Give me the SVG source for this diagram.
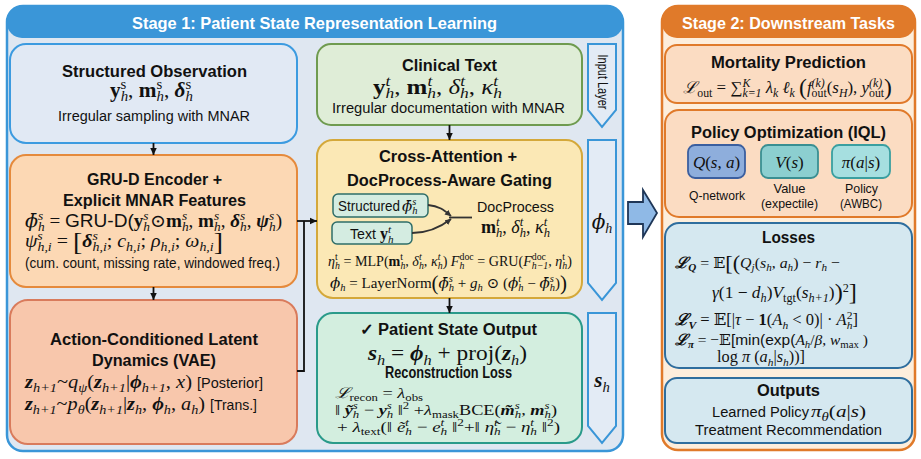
<svg xmlns="http://www.w3.org/2000/svg" width="921" height="459" viewBox="0 0 921 459">
<defs>
<style>
.hdr{font-family:"Liberation Sans",Arial,sans-serif;font-weight:bold;font-size:17px;fill:#fff;text-anchor:middle}
.ttl{font-family:"Liberation Sans",Arial,sans-serif;font-weight:bold;font-size:16px;fill:#111;text-anchor:middle}
.txt{font-family:"Liberation Sans",Arial,sans-serif;font-size:14px;fill:#111}
.mid{text-anchor:middle}
.mf{font-family:"Liberation Serif","DejaVu Serif",serif;font-style:italic;fill:#111}
.dj{font-family:"DejaVu Serif",serif}
.sf{font-family:"Liberation Sans",Arial,sans-serif;font-style:normal}
.n{font-style:normal}
.bv{font-weight:bold;font-style:normal}
.bi{font-weight:bold;font-style:italic}
.u{font-size:70%;baseline-shift:0.55em}
.d{font-size:70%;baseline-shift:-0.32em}
.big{font-style:normal;font-size:140%;baseline-shift:-0.1em}
.conn{fill:none;stroke:#111;stroke-width:1.8}
.banner{fill:#e3ebf5;stroke:#3a96d8;stroke-width:2}
.sub{fill:#d4ece1;stroke:#2e6d68;stroke-width:1.5}
.s2box{fill:#fbdcc2;stroke:#e07a2a;stroke-width:2}
.bluebox{fill:#d5e8f0;stroke:#2f6e9e;stroke-width:2}
.lbl{font-family:"Liberation Sans",Arial,sans-serif;font-size:13px;fill:#111;text-anchor:middle}
</style>
<marker id="ah" markerUnits="userSpaceOnUse" markerWidth="8" markerHeight="8" refX="7.5" refY="4" orient="auto"><path d="M0,0.5 L7.5,4 L0,7.5 z" fill="#111"/></marker>
<marker id="ah2" markerUnits="userSpaceOnUse" markerWidth="7" markerHeight="7" refX="6" refY="3.5" orient="auto"><path d="M0,0.5 L6.5,3.5 L0,6.5 z" fill="#333"/></marker>
</defs>

<g id="stage1">
<rect x="7" y="6" width="616" height="445" rx="16" fill="#dfe7f1" stroke="#3a96d8" stroke-width="2.5"/>
<rect x="7" y="6" width="616" height="32" rx="15" fill="#3a96d8"/>
<text x="314.5" y="29" class="hdr" textLength="365" lengthAdjust="spacingAndGlyphs">Stage 1: Patient State Representation Learning</text>
</g>

<g id="stage2">
<rect x="662" y="6" width="253" height="444" rx="16" fill="#fdeedc" stroke="#e07a2a" stroke-width="2.5"/>
<rect x="662" y="6" width="253" height="32" rx="15" fill="#e07a2a"/>
<text x="788.5" y="29" class="hdr" textLength="213" lengthAdjust="spacingAndGlyphs">Stage 2: Downstream Tasks</text>
</g>

<g id="structured-observation">
<rect x="10" y="44" width="287" height="99" rx="16" fill="#e1e9f4" stroke="#3c9be0" stroke-width="2"/>
<text x="154.5" y="77" class="ttl" textLength="185" lengthAdjust="spacingAndGlyphs">Structured Observation</text>
<text x="110" y="97" class="mf" font-size="20" textLength="83" lengthAdjust="spacingAndGlyphs"><tspan class="bv">y</tspan><tspan class="u n">s</tspan><tspan class="d" dx="-5.4">h</tspan><tspan class="n">, </tspan><tspan class="bv">m</tspan><tspan class="u n">s</tspan><tspan class="d" dx="-5.4">h</tspan><tspan class="n">, </tspan><tspan class="bi">δ</tspan><tspan class="u n">s</tspan><tspan class="d" dx="-5.4">h</tspan></text>
<text x="154" y="121" class="txt mid" textLength="192" lengthAdjust="spacingAndGlyphs">Irregular sampling with MNAR</text>
</g>

<g id="clinical-text">
<rect x="317" y="44" width="265" height="81" rx="14" fill="#dfedd7" stroke="#6f9b50" stroke-width="2"/>
<text x="449.5" y="71" class="ttl" textLength="95" lengthAdjust="spacingAndGlyphs">Clinical Text</text>
<text x="373" y="94" class="mf" font-size="20" textLength="129" lengthAdjust="spacingAndGlyphs"><tspan class="bv">y</tspan><tspan class="u">t</tspan><tspan class="d" dx="-3.9">h</tspan><tspan class="n">, </tspan><tspan class="bv">m</tspan><tspan class="u">t</tspan><tspan class="d" dx="-3.9">h</tspan><tspan class="n">, </tspan>δ<tspan class="u">t</tspan><tspan class="d" dx="-3.9">h</tspan><tspan class="n">, </tspan>κ<tspan class="u">t</tspan><tspan class="d" dx="-3.9">h</tspan></text>
<text x="448.5" y="113" class="txt mid" textLength="233" lengthAdjust="spacingAndGlyphs">Irregular documentation with MNAR</text>
</g>

<g id="input-layer">
<polygon points="588,44 616,44 616,110 602,127 588,110" class="banner"/>
<text transform="translate(597.5,82) rotate(90)" class="txt mid" font-size="12" textLength="55" lengthAdjust="spacingAndGlyphs">Input Layer</text>
</g>

<g id="grud-encoder">
<rect x="10" y="155" width="287" height="132" rx="16" fill="#fcd8b4" stroke="#e58a3c" stroke-width="2"/>
<text x="154.5" y="185" class="ttl" textLength="135" lengthAdjust="spacingAndGlyphs">GRU-D Encoder +</text>
<text x="154.5" y="206" class="ttl" textLength="183" lengthAdjust="spacingAndGlyphs">Explicit MNAR Features</text>
<text x="25" y="227" class="mf" font-size="18" textLength="257" lengthAdjust="spacingAndGlyphs"><tspan class="dj">ϕ̄</tspan><tspan class="u">s</tspan><tspan class="d" dx="-4.9">h</tspan><tspan class="n"> = </tspan><tspan class="sf">GRU-D(</tspan><tspan class="bv">y</tspan><tspan class="u">s</tspan><tspan class="d" dx="-4.9">h</tspan><tspan class="n">⊙</tspan><tspan class="bv">m</tspan><tspan class="u">s</tspan><tspan class="d" dx="-4.9">h</tspan><tspan class="n">, </tspan><tspan class="bv">m</tspan><tspan class="u">s</tspan><tspan class="d" dx="-4.9">h</tspan><tspan class="n">, </tspan><tspan class="bi">δ</tspan><tspan class="u">s</tspan><tspan class="d" dx="-4.9">h</tspan><tspan class="n">, </tspan><tspan class="bi">ψ</tspan><tspan class="u">s</tspan><tspan class="d" dx="-4.9">h</tspan><tspan class="n">)</tspan></text>
<text x="25" y="247" class="mf" font-size="18.5" textLength="198" lengthAdjust="spacingAndGlyphs">ψ<tspan class="u">s</tspan><tspan class="d" dx="-5">h,i</tspan><tspan class="n"> = </tspan><tspan class="big">[</tspan><tspan class="bi">δ</tspan><tspan class="u">s</tspan><tspan class="d" dx="-5">h,i</tspan><tspan class="n">; </tspan>c<tspan class="d">h,i</tspan><tspan class="n">; </tspan>ρ<tspan class="d">h,i</tspan><tspan class="n">; </tspan>ω<tspan class="d">h,i</tspan><tspan class="big">]</tspan></text>
<text x="25" y="268" class="txt" font-size="13" textLength="255" lengthAdjust="spacingAndGlyphs">(cum. count, missing rate, windowed freq.)</text>
</g>

<g id="vae-dynamics">
<rect x="10" y="300" width="287" height="144" rx="18" fill="#f8c7ac" stroke="#d97b5c" stroke-width="2"/>
<text x="154" y="345" class="ttl" textLength="208" lengthAdjust="spacingAndGlyphs">Action-Conditioned Latent</text>
<text x="154" y="366" class="ttl" textLength="124" lengthAdjust="spacingAndGlyphs">Dynamics (VAE)</text>
<text x="25" y="388" class="mf" font-size="19" textLength="167" lengthAdjust="spacingAndGlyphs"><tspan class="bi">z</tspan><tspan class="d">h+1</tspan><tspan class="n">~</tspan>q<tspan class="d">ψ</tspan><tspan class="n">(</tspan><tspan class="bi">z</tspan><tspan class="d">h+1</tspan><tspan class="n">|</tspan><tspan class="bi">ϕ</tspan><tspan class="d">h+1</tspan><tspan class="n">, </tspan>x<tspan class="n">)</tspan></text>
<text x="197" y="388" class="txt" font-size="15" textLength="66" lengthAdjust="spacingAndGlyphs">[Posterior]</text>
<text x="25" y="410" class="mf" font-size="19" textLength="180" lengthAdjust="spacingAndGlyphs"><tspan class="bi">z</tspan><tspan class="d">h+1</tspan><tspan class="n">~</tspan>p<tspan class="d">θ</tspan><tspan class="n">(</tspan><tspan class="bi">z</tspan><tspan class="d">h+1</tspan><tspan class="n">|</tspan><tspan class="bi">z</tspan><tspan class="d">h</tspan><tspan class="n">, </tspan><tspan class="bi">ϕ</tspan><tspan class="d">h</tspan><tspan class="n">, </tspan>a<tspan class="d">h</tspan><tspan class="n">)</tspan></text>
<text x="210" y="410" class="txt" font-size="15" textLength="47" lengthAdjust="spacingAndGlyphs">[Trans.]</text>
</g>

<g id="cross-attention">
<rect x="317" y="140" width="265" height="158" rx="16" fill="#fbe8b5" stroke="#d4a83a" stroke-width="2"/>
<text x="448" y="162" class="ttl" textLength="138" lengthAdjust="spacingAndGlyphs">Cross-Attention +</text>
<text x="449.5" y="186" class="ttl" textLength="205" lengthAdjust="spacingAndGlyphs">DocProcess-Aware Gating</text>
<rect x="333" y="194" width="95" height="23" rx="5" class="sub"/>
<text x="338" y="211" class="txt" textLength="62" lengthAdjust="spacingAndGlyphs">Structured</text>
<text x="402" y="211" class="mf" font-size="15"><tspan class="dj">ϕ̄</tspan><tspan class="u">s</tspan><tspan class="d" dx="-4.1">h</tspan></text>
<rect x="332" y="222" width="80" height="22" rx="5" class="sub"/>
<text x="350" y="239" class="txt" textLength="26" lengthAdjust="spacingAndGlyphs">Text</text>
<text x="380" y="239" class="mf" font-size="16"><tspan class="bv">y</tspan><tspan class="u">t</tspan><tspan class="d" dx="-3.1">h</tspan></text>
<path d="M428,205 C440,206 445,211 451,216" fill="none" stroke="#333" stroke-width="1.8" marker-end="url(#ah2)"/>
<path d="M412,233 C430,233 442,226 451,219" fill="none" stroke="#333" stroke-width="1.8" marker-end="url(#ah2)"/>
<line x1="449" y1="217.5" x2="472" y2="217.5" stroke="#333" stroke-width="1.8"/>
<text x="515.5" y="212" class="txt mid" textLength="77" lengthAdjust="spacingAndGlyphs">DocProcess</text>
<text x="481" y="233" class="mf" font-size="18" textLength="69" lengthAdjust="spacingAndGlyphs"><tspan class="bv">m</tspan><tspan class="u">t</tspan><tspan class="d" dx="-3.5">h</tspan><tspan class="n">, </tspan>δ<tspan class="u">t</tspan><tspan class="d" dx="-3.5">h</tspan><tspan class="n">, </tspan>κ<tspan class="u">t</tspan><tspan class="d" dx="-3.5">h</tspan></text>
<text x="328" y="266" class="mf" font-size="14.5" textLength="244" lengthAdjust="spacingAndGlyphs">η<tspan class="u n">t</tspan><tspan class="d" dx="-2.8">h</tspan><tspan class="n"> = MLP(</tspan><tspan class="bv">m</tspan><tspan class="u n">t</tspan><tspan class="d" dx="-2.8">h</tspan><tspan class="n">, </tspan>δ<tspan class="u">t</tspan><tspan class="d" dx="-2.8">h</tspan><tspan class="n">, </tspan>κ<tspan class="u">t</tspan><tspan class="d" dx="-2.8">h</tspan><tspan class="n">) </tspan>F<tspan class="d">h</tspan><tspan class="u n" dx="-5">doc</tspan><tspan class="n"> = GRU(</tspan>F<tspan class="u n">doc</tspan><tspan class="d" dx="-14.6">h−1</tspan><tspan class="n">, </tspan>η<tspan class="u n">t</tspan><tspan class="d" dx="-2.8">h</tspan><tspan class="n">)</tspan></text>
<text x="330" y="288" class="mf" font-size="14.5" textLength="237" lengthAdjust="spacingAndGlyphs"><tspan class="dj">ϕ</tspan><tspan class="d">h</tspan><tspan class="n"> = LayerNorm</tspan><tspan class="big">(</tspan><tspan class="dj">ϕ̄</tspan><tspan class="u">s</tspan><tspan class="d" dx="-4">h</tspan><tspan class="n"> + </tspan>g<tspan class="d">h</tspan><tspan class="n"> ⊙ (</tspan><tspan class="dj">ϕ</tspan><tspan class="u">t</tspan><tspan class="d" dx="-2.8">h</tspan><tspan class="n"> − </tspan><tspan class="dj">ϕ̄</tspan><tspan class="u">s</tspan><tspan class="d" dx="-4">h</tspan><tspan class="n">)</tspan><tspan class="big">)</tspan></text>
</g>

<g id="phi-layer">
<polygon points="588,140 616,140 616,283 602,300 588,283" class="banner"/>
<text x="602" y="229" class="mf mid" font-size="20"><tspan class="dj">ϕ</tspan><tspan class="d">h</tspan></text>
</g>

<g id="patient-state-output">
<rect x="317" y="313" width="265" height="130" rx="16" fill="#d3eedf" stroke="#2a9a8a" stroke-width="2"/>
<text x="448.5" y="335" class="ttl" textLength="177" lengthAdjust="spacingAndGlyphs">✓ Patient State Output</text>
<text x="368" y="360" class="mf" font-size="21" textLength="159" lengthAdjust="spacingAndGlyphs"><tspan class="bi">s</tspan><tspan class="d">h</tspan><tspan class="n"> = </tspan><tspan class="bi">ϕ</tspan><tspan class="d">h</tspan><tspan class="n"> + proj(</tspan><tspan class="bi">z</tspan><tspan class="d">h</tspan><tspan class="n">)</tspan></text>
<text x="448.5" y="378" class="ttl" font-size="14" textLength="127" lengthAdjust="spacingAndGlyphs">Reconstruction Loss</text>
<text x="335" y="398" class="mf" font-size="15" textLength="88" lengthAdjust="spacingAndGlyphs">ℒ<tspan class="d n">recon</tspan><tspan class="n"> = </tspan>λ<tspan class="d n">obs</tspan></text>
<text x="335" y="415" class="mf" font-size="15" textLength="222" lengthAdjust="spacingAndGlyphs"><tspan class="n">‖ </tspan><tspan class="bi">ỹ</tspan><tspan class="u">s</tspan><tspan class="d" dx="-4.1">h</tspan><tspan class="n"> − </tspan><tspan class="bi">y</tspan><tspan class="u">s</tspan><tspan class="d" dx="-4.1">h</tspan><tspan class="n"> ‖</tspan><tspan class="u n">2</tspan><tspan class="n"> +</tspan>λ<tspan class="d n">mask</tspan><tspan class="n">BCE(</tspan><tspan class="bi">m̃</tspan><tspan class="u">s</tspan><tspan class="d" dx="-4.1">h</tspan><tspan class="n">, </tspan><tspan class="bi">m</tspan><tspan class="u">s</tspan><tspan class="d" dx="-4.1">h</tspan><tspan class="n">)</tspan></text>
<text x="337" y="432" class="mf" font-size="15" textLength="223" lengthAdjust="spacingAndGlyphs"><tspan class="n">+ </tspan>λ<tspan class="d n">text</tspan><tspan class="n">(‖ </tspan>ẽ<tspan class="u">t</tspan><tspan class="d" dx="-2.9">h</tspan><tspan class="n"> − </tspan>e<tspan class="u">t</tspan><tspan class="d" dx="-2.9">h</tspan><tspan class="n"> ‖</tspan><tspan class="u n">2</tspan><tspan class="n">+‖ </tspan>η̃<tspan class="u">t</tspan><tspan class="d" dx="-2.9">h</tspan><tspan class="n"> − </tspan>η<tspan class="u">t</tspan><tspan class="d" dx="-2.9">h</tspan><tspan class="n"> ‖</tspan><tspan class="u n">2</tspan><tspan class="n">)</tspan></text>
</g>

<g id="state-layer">
<polygon points="588,313 616,313 616,426 602,443 588,426" class="banner"/>
<text x="602" y="387" class="mf mid" font-size="21"><tspan class="bi">s</tspan><tspan class="d">h</tspan></text>
</g>

<g id="mortality-prediction">
<rect x="665" y="45" width="247" height="58" rx="12" class="s2box"/>
<text x="788.5" y="68" class="ttl" font-size="17" textLength="155" lengthAdjust="spacingAndGlyphs">Mortality Prediction</text>
<text x="683" y="93" class="mf" font-size="16.5" textLength="209" lengthAdjust="spacingAndGlyphs">ℒ<tspan class="d n">out</tspan><tspan class="n"> = ∑</tspan><tspan class="u">K</tspan><tspan class="d" dx="-7.7">k=1</tspan><tspan class="n"> </tspan>λ<tspan class="d">k</tspan><tspan class="n"> </tspan>ℓ<tspan class="d">k</tspan><tspan class="n"> </tspan><tspan class="big">(</tspan>f<tspan class="u">(k)</tspan><tspan class="d n" dx="-12.8">out</tspan><tspan class="n">(</tspan>s<tspan class="d">H</tspan><tspan class="n">), </tspan>y<tspan class="u">(k)</tspan><tspan class="d n" dx="-12.8">out</tspan><tspan class="big">)</tspan></text>
</g>

<g id="policy-optimization">
<rect x="665" y="110" width="247" height="107" rx="14" class="s2box"/>
<text x="788.5" y="138" class="ttl" font-size="17" textLength="195" lengthAdjust="spacingAndGlyphs">Policy Optimization (IQL)</text>
<g id="q-network">
<rect x="688" y="145" width="57" height="33" rx="7" fill="#8eaedc" stroke="#3b5f9f" stroke-width="1.8"/>
<text x="716.5" y="168" class="mf mid" font-size="17">Q<tspan class="n">(</tspan>s<tspan class="n">, </tspan>a<tspan class="n">)</tspan></text>
<text x="717" y="200" class="lbl" textLength="56" lengthAdjust="spacingAndGlyphs">Q-network</text>
</g>
<g id="value-network">
<rect x="761" y="145" width="57" height="33" rx="7" fill="#8ccfd0" stroke="#3a8f92" stroke-width="1.8"/>
<text x="789.5" y="168" class="mf mid" font-size="17">V<tspan class="n">(</tspan>s<tspan class="n">)</tspan></text>
<text x="789.5" y="193" class="lbl" textLength="32" lengthAdjust="spacingAndGlyphs">Value</text>
<text x="789.5" y="208" class="lbl" textLength="57" lengthAdjust="spacingAndGlyphs">(expectile)</text>
</g>
<g id="policy-network">
<rect x="832" y="145" width="58" height="33" rx="7" fill="#a6dfe0" stroke="#3a9fa0" stroke-width="1.8"/>
<text x="861" y="168" class="mf mid" font-size="17">π<tspan class="n">(</tspan>a<tspan class="n">|</tspan>s<tspan class="n">)</tspan></text>
<text x="861.5" y="193" class="lbl" textLength="33" lengthAdjust="spacingAndGlyphs">Policy</text>
<text x="861" y="208" class="lbl" textLength="42" lengthAdjust="spacingAndGlyphs">(AWBC)</text>
</g>
</g>

<g id="losses">
<rect x="665" y="223" width="247" height="145" rx="14" class="bluebox"/>
<text x="788.5" y="243" class="ttl" font-size="17" textLength="53" lengthAdjust="spacingAndGlyphs">Losses</text>
<text x="675" y="268" class="mf" font-size="15.5" textLength="165" lengthAdjust="spacingAndGlyphs"><tspan class="bi">ℒ</tspan><tspan class="d bi">Q</tspan><tspan class="n"> = 𝔼</tspan><tspan class="big">[(</tspan>Q<tspan class="d">j</tspan><tspan class="n">(</tspan>s<tspan class="d">h</tspan><tspan class="n">, </tspan>a<tspan class="d">h</tspan><tspan class="n">) − </tspan>r<tspan class="d">h</tspan><tspan class="n"> −</tspan></text>
<text x="712" y="298" class="mf" font-size="16.5" textLength="145" lengthAdjust="spacingAndGlyphs">γ<tspan class="n">(1 − </tspan>d<tspan class="d">h</tspan><tspan class="n">)</tspan>V<tspan class="d n">tgt</tspan><tspan class="n">(</tspan>s<tspan class="d">h+1</tspan><tspan class="n">)</tspan><tspan class="big">)</tspan><tspan class="u n">2</tspan><tspan class="big">]</tspan></text>
<text x="675" y="325" class="mf" font-size="16" textLength="183" lengthAdjust="spacingAndGlyphs"><tspan class="bi">ℒ</tspan><tspan class="d bi">V</tspan><tspan class="n"> = 𝔼[|</tspan>τ<tspan class="n"> − </tspan><tspan class="bv">1</tspan><tspan class="n">(</tspan>A<tspan class="d">h</tspan><tspan class="n"> &lt; 0)| · </tspan>A<tspan class="u n">2</tspan><tspan class="d" dx="-5.6">h</tspan><tspan class="n">]</tspan></text>
<text x="675" y="345" class="mf" font-size="15.5" textLength="193" lengthAdjust="spacingAndGlyphs"><tspan class="bi">ℒ</tspan><tspan class="d bi">π</tspan><tspan class="n"> = −𝔼</tspan><tspan class="sf">[min(exp(</tspan>A<tspan class="d">h</tspan><tspan class="n">/</tspan>β<tspan class="n">, </tspan>w<tspan class="d n">max</tspan><tspan class="n"> )</tspan></text>
<text x="717" y="362" class="mf" font-size="16" textLength="88" lengthAdjust="spacingAndGlyphs"><tspan class="n">log </tspan>π<tspan class="n"> (</tspan>a<tspan class="d">h</tspan><tspan class="n">|</tspan>s<tspan class="d">h</tspan><tspan class="n">))]</tspan></text>
</g>

<g id="outputs">
<rect x="665" y="378" width="247" height="65" rx="12" class="bluebox"/>
<text x="788.5" y="396" class="ttl" font-size="17" textLength="63" lengthAdjust="spacingAndGlyphs">Outputs</text>
<text x="712" y="417" class="txt" font-size="15" textLength="97" lengthAdjust="spacingAndGlyphs">Learned Policy</text>
<text x="811" y="417" class="mf" font-size="17" textLength="55" lengthAdjust="spacingAndGlyphs">π<tspan class="d">θ</tspan><tspan class="n">(</tspan>a<tspan class="n">|</tspan>s<tspan class="n">)</tspan></text>
<text x="788.5" y="435" class="txt mid" font-size="15" textLength="187" lengthAdjust="spacingAndGlyphs">Treatment Recommendation</text>
</g>

<g id="stage-arrow">
<polygon points="628,202 643,202 643,190 657,213 643,237 643,224 628,224" fill="#8fb9e6" stroke="#1e3657" stroke-width="1.8" stroke-linejoin="miter"/>
</g>

<g id="connectors">
<line x1="153.5" y1="143" x2="153.5" y2="155" class="conn" marker-end="url(#ah)"/>
<line x1="153.5" y1="287" x2="153.5" y2="300" class="conn" marker-end="url(#ah)"/>
<line x1="449.5" y1="125" x2="449.5" y2="140" class="conn" marker-end="url(#ah)"/>
<line x1="449.5" y1="298" x2="449.5" y2="313" class="conn" marker-end="url(#ah)"/>
<line x1="297" y1="221" x2="317" y2="221" class="conn" marker-end="url(#ah)"/>
<polyline points="297,371 304,371 304,221" class="conn"/>
</g>
</svg>
